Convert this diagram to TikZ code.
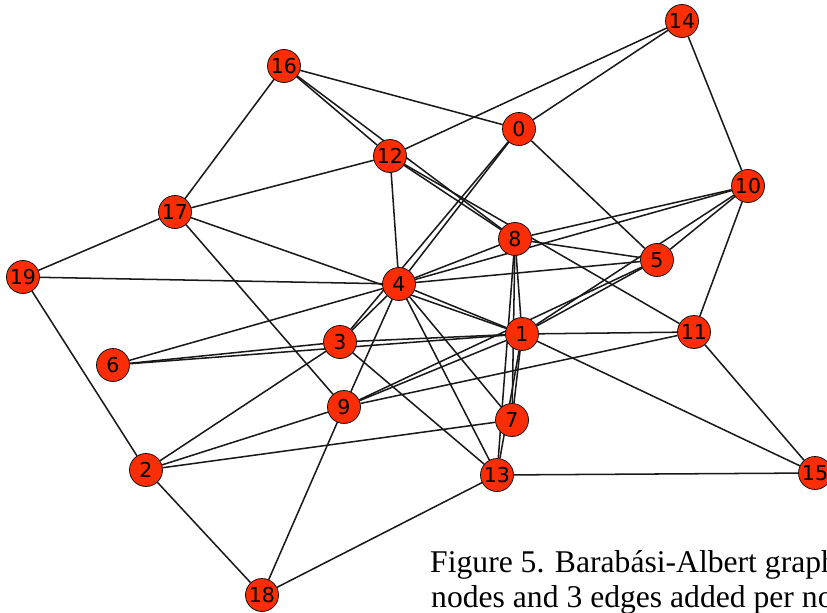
\documentclass[tikz,border=0pt]{standalone}
\usepackage{fontspec}
\setmainfont{Liberation Serif}
\setsansfont{DejaVu Sans}
\usetikzlibrary{backgrounds}

\definecolor{vertexred}{RGB}{250,45,5}

\begin{document}
\begin{tikzpicture}[x=0.03cm,y=-0.03cm]
  \tikzstyle{vertex}=[circle, draw=black, line width=0.6pt, fill=vertexred,
    minimum size=0.99cm, inner sep=0pt, font=\sffamily\fontsize{17.5}{17.5}\selectfont]
  \tikzstyle{link}=[draw=black!90, line width=1.3pt]
  \tikzstyle{caption}=[inner sep=0pt, anchor=base west, font=\fontsize{27}{27}\selectfont]

  \useasboundingbox (0,0) rectangle (827,613);
  \clip (0,0) rectangle (827,613);

  \node[vertex] (v_0)  at (519,129) {0};
  \node[vertex] (v_1)  at (522,334) {1};
  \node[vertex] (v_2)  at (146,470) {2};
  \node[vertex] (v_3)  at (340,342) {3};
  \node[vertex] (v_4)  at (399,284) {4};
  \node[vertex] (v_5)  at (657,260) {5};
  \node[vertex] (v_6)  at (113,365) {6};
  \node[vertex] (v_7)  at (512,420) {7};
  \node[vertex] (v_8)  at (515,239) {8};
  \node[vertex] (v_9)  at (344,407) {9};
  \node[vertex] (v_10) at (748,186) {10};
  \node[vertex] (v_11) at (694,332) {11};
  \node[vertex] (v_12) at (390,156) {12};
  \node[vertex] (v_13) at (497,475) {13};
  \node[vertex] (v_14) at (682,21)  {14};
  \node[vertex] (v_15) at (815,473) {15};
  \node[vertex] (v_16) at (284,66)  {16};
  \node[vertex] (v_17) at (175,212) {17};
  \node[vertex] (v_18) at (262,595) {18};
  \node[vertex] (v_19) at (23,277)  {19};

  \begin{pgfonlayer}{background}
  \path[link]
  (v_16) edge (v_17) edge (v_0) edge (v_12) edge (v_8)
  (v_12) edge (v_8) edge (v_11) edge (v_14) edge (v_17) edge (v_4)
  (v_0)  edge (v_14) edge (v_5) edge (v_4) edge (v_3)
  (v_14) edge (v_10)
  (v_10) edge (v_11) edge (v_5) edge (v_8) edge (v_4) edge (v_1)
  (v_17) edge (v_19) edge (v_9) edge (v_1)
  (v_19) edge (v_4) edge (v_2)
  (v_6)  edge (v_4) edge (v_3) edge (v_1)
  (v_2)  edge (v_3) edge (v_9) edge (v_7) edge (v_18)
  (v_18) edge (v_9) edge (v_13)
  (v_9)  edge (v_4) edge (v_1) edge (v_11)
  (v_13) edge (v_3) edge (v_4) edge (v_15) edge (v_8) edge (v_1)
  (v_7)  edge (v_4) edge (v_8) edge (v_1)
  (v_15) edge (v_1) edge (v_11)
  (v_11) edge (v_1)
  (v_5)  edge (v_8) edge (v_4) edge (v_1) edge (v_9)
  (v_1)  edge (v_4) edge (v_3) edge (v_8)
  (v_4)  edge (v_3) edge (v_8);
  \end{pgfonlayer}

  \node[caption] (cap_1) at (430,572) {Figure 5. Barabási-Albert graph};
  \node[caption] (cap_2) at (431,607) {nodes and 3 edges added per node};
\end{tikzpicture}
\end{document}
